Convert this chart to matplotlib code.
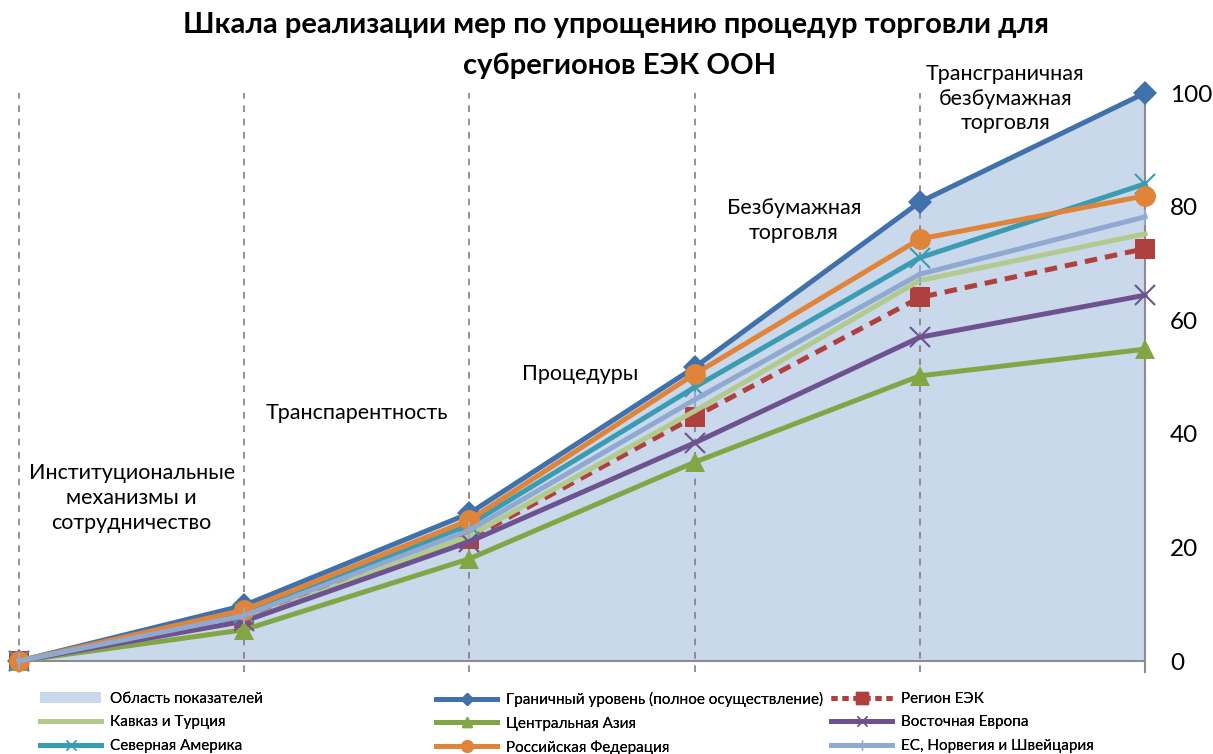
import matplotlib
matplotlib.use("Agg")
import matplotlib.pyplot as plt
from matplotlib.lines import Line2D
from matplotlib.patches import Patch

plt.rcParams["font.family"] = ["Lato", "DejaVu Sans"]

# ── Data ─────────────────────────────────────────────────────────────
stages = [0, 1, 2, 3, 4, 5]
stage_labels = ["Институциональные\nмеханизмы и\nсотрудничество", "Транспарентность",
                "Процедуры", "Безбумажная\nторговля",
                "Трансграничная\nбезбумажная\nторговля"]
border      = [0, 9.8, 26, 51.7, 80.8, 100]
unece       = [0, 7.5, 21.5, 43, 64, 72.6]
caucasus    = [0, 7, 22, 44, 67, 75.2]
central     = [0, 5.5, 18, 35, 50.2, 54.9]
east_europe = [0, 7, 21, 38.4, 57, 64.4]
n_america   = [0, 8.5, 24, 48.2, 71, 84]
russia      = [0, 9, 24.8, 50.5, 74.3, 81.9]
eu          = [0, 8, 23, 46, 68.1, 78.2]
yticks = [0, 20, 40, 60, 80, 100]

# ── Style ────────────────────────────────────────────────────────────
C_AREA = "#C9D8EA"
series = [
    ("Граничный уровень (полное осуществление)", border, "#4171AA", "D", "-", 12),
    ("Регион ЕЭК", unece, "#B0403D", "s", "--", 15),
    ("Кавказ и Турция", caucasus, "#B2CB8D", "None", "-", 0),
    ("Центральная Азия", central, "#82A646", "^", "-", 14),
    ("Восточная Европа", east_europe, "#6E5290", "x", "-", 14),
    ("Северная Америка", n_america, "#3A9BB2", "x", "-", 14),
    ("Российская Федерация", russia, "#E0843A", "o", "-", 15),
    ("ЕС, Норвегия и Швейцария", eu, "#8FA9D1", "|", "-", 12),
]

fig = plt.figure(figsize=(12.13, 7.54), dpi=100)
ax = fig.add_axes([19 / 1213, 1 - 661 / 754, (1145 - 19) / 1213, (661 - 93) / 754])

ax.fill_between(stages, border, color=C_AREA, lw=0, zorder=1)

handles = {}
for name, vals, color, marker, ls, ms in series:
    kw = dict(color=color, lw=3.6, ls=ls, marker=marker, ms=ms,
              markeredgecolor=color, markeredgewidth=1.5 if marker in ("x", "|") else 0,
              clip_on=False, zorder=3)
    if ls == "--":
        kw["dashes"] = (2.5, 1.6)
    ax.plot(stages, vals, **kw)
    handles[name] = Line2D([], [], color=color, lw=3.6, ls=ls, marker=marker,
                           ms=ms * 0.55, markeredgecolor=color,
                           dashes=(1.2, 1.0) if ls == "--" else (None, None))

# gridlines (dashed verticals)
for s in stages[:-1]:
    ax.plot([s, s], [-2, 100], ls=(0, (4, 4)), color="#7F7F7F", lw=1.2,
            clip_on=False, zorder=2)
ax.plot([5, 5], [-2, 100], color="#8C8C8C", lw=1.5, clip_on=False, zorder=2)
ax.plot([0, 5], [0, 0], color="#8C8C8C", lw=1.5, clip_on=False, zorder=2)

ax.set_xlim(0, 5)
ax.set_ylim(0, 100)
ax.set_xticks([])
ax.yaxis.tick_right()
ax.set_yticks(yticks)
ax.tick_params(axis="y", length=0, labelsize=17.5, pad=18)
for sp in ax.spines.values():
    sp.set_visible(False)
ax.set_facecolor("none")

# stage labels
label_pos = [(0.5, 28.7), (1.5, 43.7), (2.49, 50.5), (3.44, 77.6), (4.38, 99)]
for txt, (x, y) in zip(stage_labels, label_pos):
    ax.text(x, y, txt, ha="center", va="center", fontsize=15.5, linespacing=1.3,
            zorder=4)

fig.text(0.508, 0.967, "Шкала реализации мер по упрощению процедур торговли для",
         ha="center", va="center", fontsize=21, fontweight="bold")
fig.text(0.511, 0.913, "субрегионов ЕЭК ООН",
         ha="center", va="center", fontsize=21, fontweight="bold")

# legend: three columns placed individually
area_h = Patch(facecolor=C_AREA, edgecolor="none")
cols = [
    ([area_h, handles["Кавказ и Турция"], handles["Северная Америка"]],
     ["Область показателей", "Кавказ и Турция", "Северная Америка"], 40),
    ([handles["Граничный уровень (полное осуществление)"], handles["Центральная Азия"],
      handles["Российская Федерация"]],
     ["Граничный уровень (полное осуществление)", "Центральная Азия",
      "Российская Федерация"], 436),
    ([handles["Регион ЕЭК"], handles["Восточная Европа"], handles["ЕС, Норвегия и Швейцария"]],
     ["Регион ЕЭК", "Восточная Европа", "ЕС, Норвегия и Швейцария"], 831),
]
for hs, labs, xpx in cols:
    leg = fig.legend(hs, labs, loc="upper left",
                     bbox_to_anchor=(xpx / 1213, 1 - 692 / 754),
                     frameon=False, handlelength=4.0, borderaxespad=0,
                     handleheight=0.7, handletextpad=0.6, labelspacing=0.62,
                     borderpad=0, prop={"family": ["Lato", "DejaVu Sans"],
                                        "size": 11})
    fig.add_artist(leg)

fig.savefig("out.png", dpi=100)
